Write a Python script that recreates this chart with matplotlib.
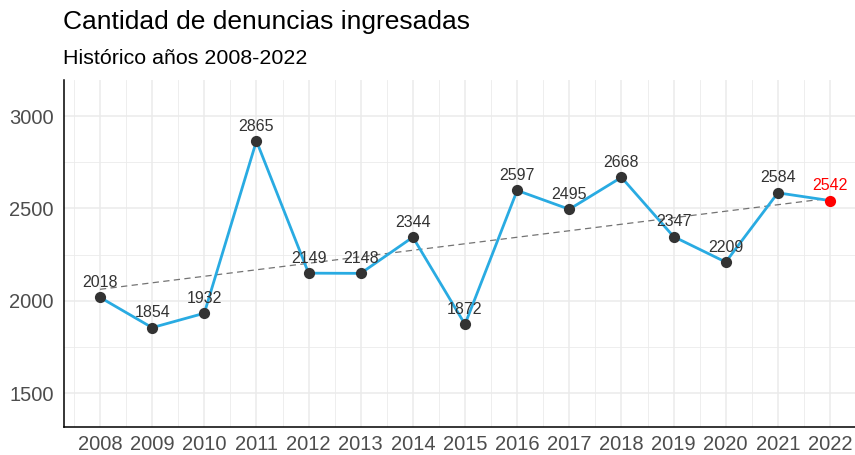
import numpy as np
import matplotlib.pyplot as plt

plt.rcParams['font.family'] = ['Liberation Sans', 'DejaVu Sans']

# data
years = [2008, 2009, 2010, 2011, 2012, 2013, 2014, 2015, 2016, 2017, 2018, 2019, 2020, 2021, 2022]
denuncias = [2018, 1854, 1932, 2865, 2149, 2148, 2344, 1872, 2597, 2495, 2668, 2347, 2209, 2584, 2542]
y_ticks = [1500, 2000, 2500, 3000]

title = "Cantidad de denuncias ingresadas"
subtitle = "Histórico años 2008-2022"

line_col = "#29ABE2"
point_col = "#333333"
grid_col = "#EBEBEB"

x = np.array(years)
y = np.array(denuncias)

fig = plt.figure(figsize=(8.55, 4.55), dpi=100)
ax = fig.add_axes([63.5 / 855, 28 / 455, (855 - 63.5) / 855, (427 - 80) / 455])

# grid
for v in np.arange(2007.5, 2023, 1.0):
    ax.axvline(v, color=grid_col, lw=0.6, zorder=0)
for v in years:
    ax.axvline(v, color=grid_col, lw=1.1, zorder=0)
for v in [1250, 1750, 2250, 2750, 3250]:
    ax.axhline(v, color=grid_col, lw=0.6, zorder=0)
for v in y_ticks:
    ax.axhline(v, color=grid_col, lw=1.1, zorder=0)

# linear trend
b, a = np.polyfit(x, y, 1)
ax.plot(x, a + b * x, color="#737373", lw=0.9, dashes=(5, 3.5), zorder=2)

ax.plot(x, y, color=line_col, lw=2.0, zorder=3)
ax.scatter(x[:-1], y[:-1], s=65, color=point_col, zorder=4, linewidths=0)
ax.scatter(x[-1:], y[-1:], s=65, color="red", zorder=4, linewidths=0)

for i, (xi, yi) in enumerate(zip(x, y)):
    col = "red" if i == len(x) - 1 else "#333333"
    ax.annotate(str(yi), (xi, yi), xytext=(0, 7.5), textcoords="offset points",
                ha="center", va="baseline", fontsize=11.5, color=col, zorder=5)

ax.set_xlim(2007.3, 2007.3 + (855 - 63.5) / ((830 - 100) / 14))
ax.set_ylim(1316, 3195)
ax.set_xticks(years)
ax.set_yticks(y_ticks)
ax.tick_params(length=0, labelsize=14.5, colors="#4D4D4D")
ax.tick_params(axis="y", pad=7)
ax.tick_params(axis="x", pad=6)

for s in ["top", "right"]:
    ax.spines[s].set_visible(False)
for s in ["left", "bottom"]:
    ax.spines[s].set_color("black")
    ax.spines[s].set_linewidth(1.1)

fig.text(63 / 855, 1 - 29 / 455, title, fontsize=19, color="black", ha="left", va="baseline")
fig.text(63 / 855, 1 - 64 / 455, subtitle, fontsize=15.4, color="black", ha="left", va="baseline")

fig.savefig("out.png", dpi=100)
